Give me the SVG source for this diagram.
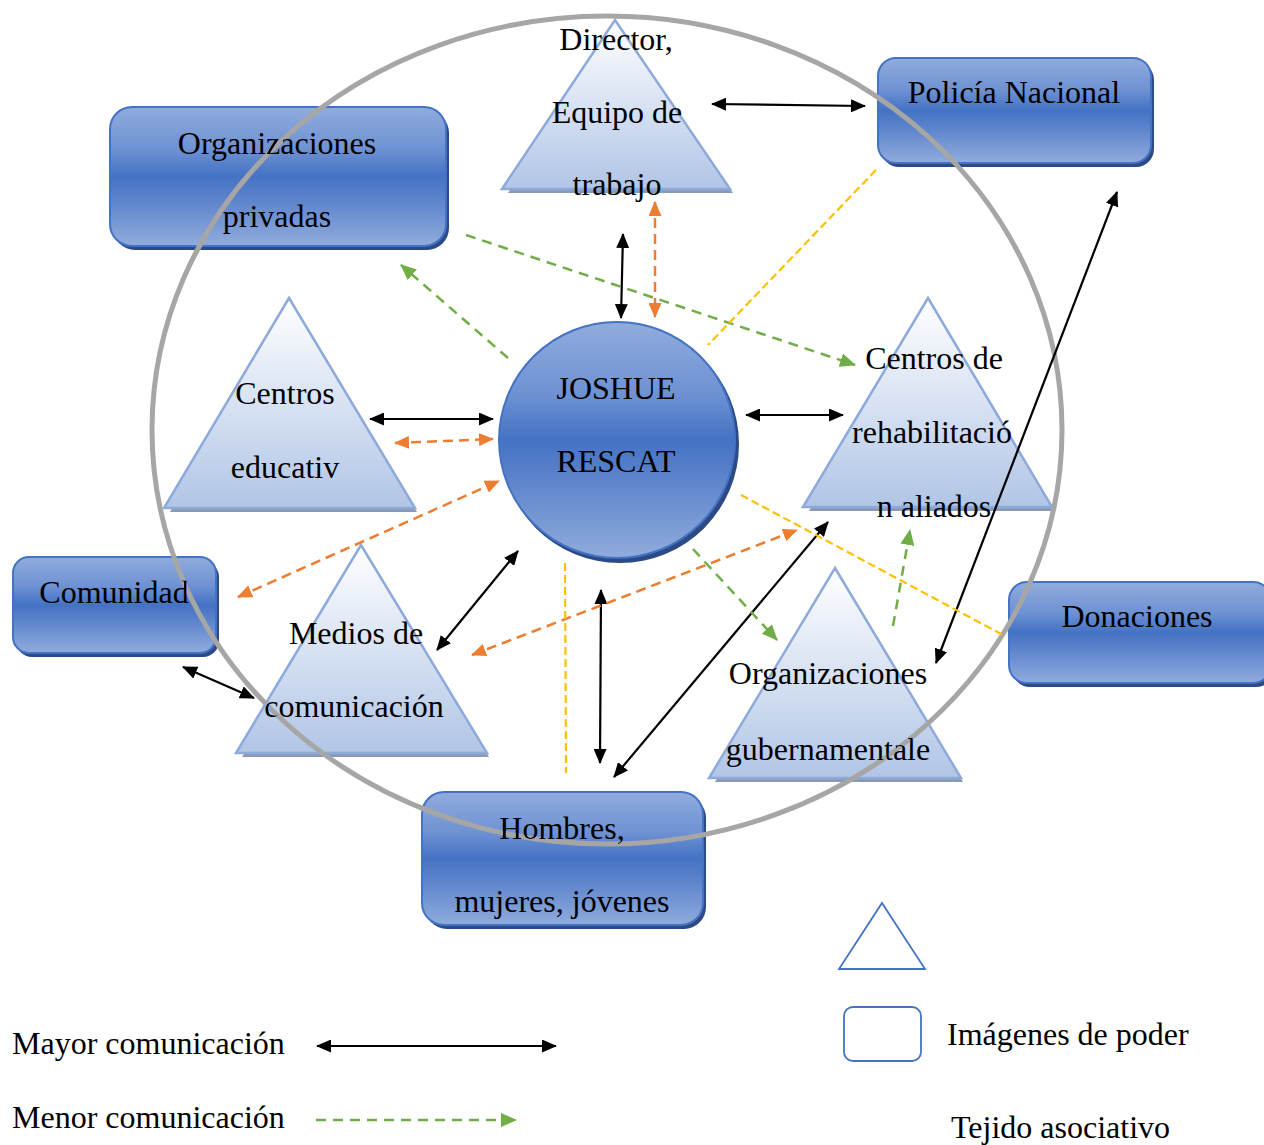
<svg xmlns="http://www.w3.org/2000/svg" width="1264" height="1145" viewBox="0 0 1264 1145">
<defs>
<linearGradient id="gRect" x1="0" y1="0" x2="0" y2="1">
<stop offset="0" stop-color="#91acdd"/>
<stop offset="0.3" stop-color="#6f92d3"/>
<stop offset="0.5" stop-color="#4472c4"/>
<stop offset="0.68" stop-color="#5f85cc"/>
<stop offset="1" stop-color="#91acdd"/>
</linearGradient>
<linearGradient id="gTri" x1="0" y1="0" x2="0" y2="1">
<stop offset="0" stop-color="#ffffff"/>
<stop offset="1" stop-color="#b1c5e6"/>
</linearGradient>
<marker id="mk" markerWidth="15" markerHeight="13" refX="14" refY="6.5" orient="auto-start-reverse" markerUnits="userSpaceOnUse"><path d="M0,0 L15,6.5 L0,13 z" fill="#000"/></marker>
<marker id="mo" markerWidth="15" markerHeight="13" refX="14" refY="6.5" orient="auto-start-reverse" markerUnits="userSpaceOnUse"><path d="M0,0 L15,6.5 L0,13 z" fill="#ed7d31"/></marker>
<marker id="mg" markerWidth="16" markerHeight="14" refX="15" refY="7" orient="auto-start-reverse" markerUnits="userSpaceOnUse"><path d="M0,0 L16,7 L0,14 z" fill="#70ad47"/></marker>
<mask id="ringMask" maskUnits="userSpaceOnUse" x="0" y="0" width="1264" height="1145">
<rect width="1264" height="1145" fill="#fff"/>
<use href="#tx-op1"/><use href="#tx-op2"/><use href="#tx-hom1"/><use href="#tx-com"/>
<use href="#tx-med2"/><use href="#tx-og1"/><use href="#tx-og2"/><use href="#tx-dir1"/>
</mask>
</defs>
<style>
.t{font-family:"Liberation Serif","Times New Roman",serif;font-size:32px;fill:#000;text-anchor:middle}
.tl{font-family:"Liberation Serif","Times New Roman",serif;font-size:32px;fill:#000}
.rect{fill:url(#gRect);stroke:#4472c4;stroke-width:2}
.rsh{fill:#2c4a85}
.tri{fill:url(#gTri);stroke:#8eaadb;stroke-width:2.5}
.tsh{fill:#8a9ab5}
.blk{stroke:#000;stroke-width:2.2;fill:none;marker-start:url(#mk);marker-end:url(#mk)}
.org{stroke:#ed7d31;stroke-width:2.5;fill:none;stroke-dasharray:10 6;marker-start:url(#mo);marker-end:url(#mo)}
.grn{stroke:#70ad47;stroke-width:2.5;fill:none;stroke-dasharray:10 7;marker-end:url(#mg)}
.yel{stroke:#ffc000;stroke-width:2.2;fill:none;stroke-dasharray:8 4}
</style>
<rect width="1264" height="1145" fill="#fff"/>

<g id="node-org-privadas">
<rect class="rsh" x="113" y="111" width="336" height="139" rx="22"/>
<rect class="rect" x="110" y="107" width="336" height="139" rx="22"/>
<text id="tx-op1" class="t" x="277" y="154">Organizaciones</text>
<text id="tx-op2" class="t" x="277" y="227">privadas</text>
</g>
<g id="node-policia">
<rect class="rsh" x="881" y="62" width="273" height="105" rx="18"/>
<rect class="rect" x="878" y="58" width="273" height="105" rx="18"/>
<text class="t" x="1014" y="103">Policía Nacional</text>
</g>
<g id="node-comunidad">
<rect class="rsh" x="16" y="561" width="203" height="96" rx="16"/>
<rect class="rect" x="13" y="557" width="203" height="96" rx="16"/>
<text id="tx-com" class="t" x="114" y="603">Comunidad</text>
</g>
<g id="node-donaciones">
<rect class="rsh" x="1012" y="586" width="262" height="101" rx="18"/>
<rect class="rect" x="1009" y="582" width="262" height="101" rx="18"/>
<text class="t" x="1137" y="627">Donaciones</text>
</g>
<g id="node-hombres">
<rect class="rsh" x="425" y="796" width="281" height="133" rx="22"/>
<rect class="rect" x="422" y="792" width="281" height="133" rx="22"/>
<text id="tx-hom1" class="t" x="562" y="839">Hombres,</text>
<text class="t" x="562" y="912">mujeres, jóvenes</text>
</g>

<g id="node-director">
<polygon class="tsh" points="617,24 733,193 508,193"/>
<polygon class="tri" points="615,20 730,189 502,189"/>
<text id="tx-dir1" class="t" x="616" y="50">Director,</text>
<text class="t" x="617" y="123">Equipo de</text>
<text class="t" x="617" y="195">trabajo</text>
</g>
<g id="node-centros-educativos">
<polygon class="tsh" points="291,302 417,512 170,512"/>
<polygon class="tri" points="289,298 415,508 164,508"/>
<text class="t" x="285" y="404">Centros</text>
<text class="t" x="285" y="478">educativ</text>
</g>
<g id="node-centros-rehab">
<polygon class="tsh" points="930,302 1054,511 809,511"/>
<polygon class="tri" points="928,298 1052,507 803,507"/>
<text class="t" x="934" y="369">Centros de</text>
<text class="t" x="932" y="443">rehabilitació</text>
<text class="t" x="934" y="517">n aliados</text>
</g>
<g id="node-medios">
<polygon class="tsh" points="363,549 489,757 242,757"/>
<polygon class="tri" points="361,545 487,753 236,753"/>
<text class="t" x="356" y="644">Medios de</text>
<text id="tx-med2" class="t" x="354" y="717">comunicación</text>
</g>
<g id="node-org-gub">
<polygon class="tsh" points="837,572 963,782 715,782"/>
<polygon class="tri" points="835,568 961,778 709,778"/>
<text id="tx-og1" class="t" x="828" y="684">Organizaciones</text>
<text id="tx-og2" class="t" x="828" y="760">gubernamentale</text>
</g>

<g id="node-joshue">
<circle cx="620" cy="444" r="119" fill="#2c4a85"/>
<circle cx="617" cy="440" r="118" fill="url(#gRect)" stroke="#4472c4" stroke-width="2"/>
<text class="t" x="616" y="399">JOSHUE</text>
<text class="t" x="616" y="472">RESCAT</text>
</g>

<g id="ring">
<ellipse cx="607" cy="430" rx="455" ry="414" fill="none" stroke="#a6a6a6" stroke-width="5" mask="url(#ringMask)"/>
</g>

<g id="connectors">
<line class="blk" x1="712" y1="104" x2="865" y2="106"/>
<line class="blk" x1="623" y1="234" x2="621" y2="318"/>
<line class="blk" x1="370" y1="419" x2="493" y2="419"/>
<line class="blk" x1="746" y1="415" x2="843" y2="415"/>
<line class="blk" x1="183" y1="667" x2="254" y2="698"/>
<line class="blk" x1="437" y1="650" x2="518" y2="551"/>
<line class="blk" x1="601" y1="590" x2="600" y2="763"/>
<line class="blk" x1="614" y1="777" x2="828" y2="522"/>
<line class="blk" x1="1117" y1="192" x2="936" y2="663"/>

<line class="org" x1="655" y1="202" x2="655" y2="317"/>
<line class="org" x1="395" y1="443" x2="493" y2="439"/>
<line class="org" x1="238" y1="597" x2="499" y2="481"/>
<line class="org" x1="472" y1="655" x2="797" y2="530"/>

<line class="grn" x1="508" y1="358" x2="401" y2="265"/>
<line class="grn" x1="466" y1="235" x2="855" y2="365"/>
<line class="grn" x1="693" y1="549" x2="777" y2="640"/>
<line class="grn" x1="893" y1="626" x2="910" y2="530"/>

<line class="yel" x1="876" y1="170" x2="708" y2="345"/>
<line class="yel" x1="741" y1="495" x2="1003" y2="635"/>
<line class="yel" x1="565" y1="563" x2="566" y2="773"/>
</g>

<g id="legend">
<text class="tl" x="12" y="1054">Mayor comunicación</text>
<line class="blk" x1="317" y1="1046" x2="556" y2="1046"/>
<text class="tl" x="12" y="1128">Menor comunicación</text>
<line class="grn" x1="316" y1="1120" x2="516" y2="1120"/>
<polygon points="882,903 925,969 839,969" fill="#fff" stroke="#4472c4" stroke-width="1.8"/>
<rect x="844" y="1007" width="77" height="54" rx="9" fill="#fff" stroke="#4472c4" stroke-width="1.8"/>
<text class="tl" x="947" y="1045">Imágenes de poder</text>
<text class="tl" x="951" y="1138">Tejido asociativo</text>
</g>
</svg>
